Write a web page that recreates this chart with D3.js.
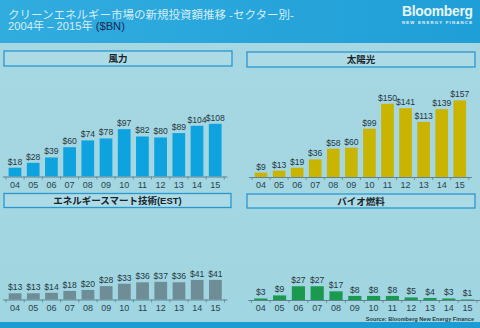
<!DOCTYPE html>
<html><head><meta charset="utf-8">
<script src="https://cdn.jsdelivr.net/npm/d3@7"></script>
<style>
html,body{margin:0;padding:0;background:#2aa6d9;}
svg{display:block;font-family:"Liberation Sans","Noto Sans CJK JP",Arial,sans-serif;}
</style></head>
<body>
<script>
const years = ["04","05","06","07","08","09","10","11","12","13","14","15"];
const wind = [18,28,39,60,74,78,97,82,80,89,104,108];
const solar = [9,13,19,36,58,60,99,150,141,113,139,157];
const est = [13,13,14,18,20,28,33,36,37,36,41,41];
const bio = [3,9,27,27,17,8,8,8,5,4,3,1];
const titleLine1 = "クリーンエネルギー市場の新規投資額推移 -セクター別-";
const titleLine2 = "2004年 – 2015年 ";
const unitLabel = "($BN)";
const panels = [
  {name:"風力", data:wind, color:"#0ea3df", box:[4,51,232,66], range:[5.9,224.3], base:176.5, perUnit:0.488},
  {name:"太陽光", data:solar, color:"#c9b500", box:[247,52,475,67], range:[252,468.8], base:177, perUnit:0.488},
  {name:"エネルギースマート技術(EST)", data:est, color:"#6f8d96", box:[4,193.5,231,207.5], range:[6,224.5], base:299.5, perUnit:0.478},
  {name:"バイオ燃料", data:bio, color:"#1b9a4f", box:[247,194,475,208], range:[251.4,477], base:300, perUnit:0.51}
];

const W=480,H=328;
const svg = d3.select("body").append("svg").attr("width",W).attr("height",H);
const defs = svg.append("defs");
const g1 = defs.append("linearGradient").attr("id","topg").attr("x1",0).attr("x2",1).attr("y1",0).attr("y2",0);
g1.append("stop").attr("offset","0%").attr("stop-color","#31acdf");
g1.append("stop").attr("offset","100%").attr("stop-color","#1f9fd7");
svg.append("rect").attr("width",W).attr("height",H).attr("fill","url(#topg)");
const g2 = defs.append("linearGradient").attr("id","panelg").attr("x1",0).attr("x2",0).attr("y1",0).attr("y2",1);
g2.append("stop").attr("offset","0%").attr("stop-color","#a6d7e2");
g2.append("stop").attr("offset","100%").attr("stop-color","#a0d6e1");
svg.append("rect").attr("x",0).attr("y",43).attr("width",W).attr("height",279).attr("fill","url(#panelg)");
svg.append("rect").attr("x",0).attr("y",322).attr("width",W).attr("height",6).attr("fill","#1d9bd3");

// header
svg.append("text").attr("x",8).attr("y",19).attr("font-size",11.5).attr("fill","#d4edf8").text(titleLine1);
const t2 = svg.append("text").attr("x",8).attr("y",30).attr("font-size",11.2).attr("fill","#d4edf8");
t2.append("tspan").text(titleLine2);
t2.append("tspan").attr("fill","#1b2a55").text(unitLabel);
svg.append("text").attr("x",473).attr("y",16).attr("text-anchor","end").attr("font-size",13.8).attr("font-weight","bold").attr("fill","#e6f5fc").attr("textLength",71).text("Bloomberg");
svg.append("text").attr("x",402).attr("y",23.5).attr("font-size",4.3).attr("font-weight","bold").attr("fill","#e6f5fc").attr("textLength",70).text("NEW ENERGY FINANCE");

panels.forEach(p=>{
  const g = svg.append("g");
  const [bx0,by0,bx1,by1] = p.box;
  g.append("rect").attr("x",bx0).attr("y",by0).attr("width",bx1-bx0).attr("height",by1-by0)
    .attr("fill","#acdbe6").attr("stroke","#2a98cf").attr("stroke-width",1.3);
  g.append("text").attr("x",(bx0+bx1)/2).attr("y",(by0+by1)/2+3.5).attr("text-anchor","middle")
    .attr("font-size",9.5).attr("font-weight","bold").attr("fill","#17242c").text(p.name);

  const x = d3.scaleBand().domain(years).range(p.range).paddingInner(0.3).paddingOuter(0.15);
  const y = d3.scaleLinear().domain([0,100]).range([p.base, p.base-100*p.perUnit]);
  const step = x.step();
  g.selectAll("rect.bar").data(p.data).join("rect").attr("class","bar")
    .attr("x",(d,i)=>x(years[i])).attr("width",x.bandwidth())
    .attr("y",d=>y(d)).attr("height",d=>p.base-y(d)).attr("fill",p.color);
  g.selectAll("text.val").data(p.data).join("text").attr("class","val")
    .attr("x",(d,i)=>x(years[i])+x.bandwidth()/2).attr("y",d=>y(d)-3)
    .attr("text-anchor","middle").attr("font-size",8.6).attr("fill","#25363f").text(d=>"$"+d);
  const left = x(years[0]) - step*0.15 - 3, right = x(years[11]) + x.bandwidth() + step*0.15 + 3;
  g.append("line").attr("x1",left).attr("x2",right).attr("y1",p.base+0.5).attr("y2",p.base+0.5)
    .attr("stroke","#5f8490").attr("stroke-width",1);
  const bounds = years.map(yr=>x(yr)-step*0.15).concat([x(years[11])+x.bandwidth()+step*0.15]);
  g.selectAll("line.tk").data(bounds).join("line").attr("class","tk")
    .attr("x1",d=>d).attr("x2",d=>d).attr("y1",p.base).attr("y2",p.base+3)
    .attr("stroke","#5f8490").attr("stroke-width",0.8);
  const ax = g.append("g").attr("transform",`translate(0,${p.base})`)
    .call(d3.axisBottom(x).tickSize(0).tickPadding(5));
  ax.select(".domain").remove();
  ax.selectAll("text").attr("font-size",9).attr("fill","#2a4450").attr("font-family","Liberation Sans, Arial, sans-serif");
});

svg.append("text").attr("x",474).attr("y",320.5).attr("text-anchor","end").attr("font-size",5.6)
  .attr("font-weight","bold").attr("fill","#24404c").text("Source: Bloomberg New Energy Finance");
</script>
</body></html>
